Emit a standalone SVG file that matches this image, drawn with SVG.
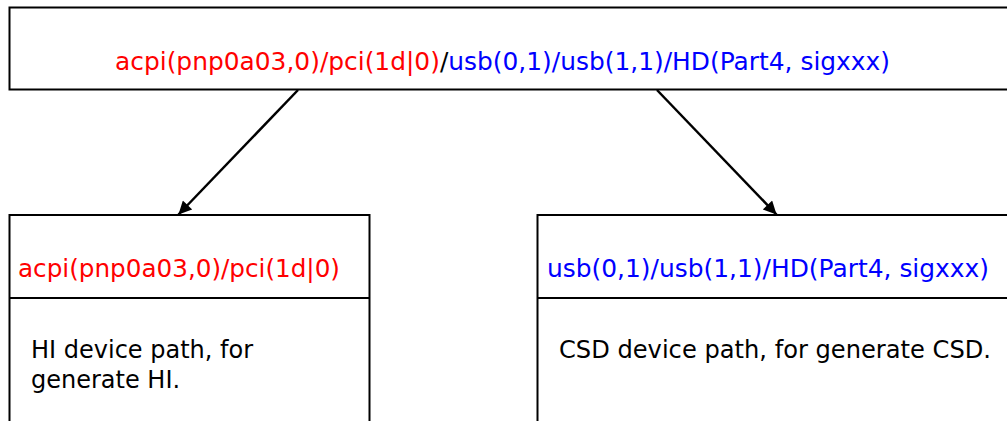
<svg xmlns="http://www.w3.org/2000/svg" width="1007" height="421" viewBox="0 0 1007 421">
<defs>
<style>
.box{fill:#fff;stroke:#000;stroke-width:2}
.line{stroke:#000;stroke-width:2;fill:none}
.t{font-family:"DejaVu Sans",Verdana,sans-serif;font-size:24.5px}
.s{font-size:24px}
.r{fill:#ff0000}
.b{fill:#0000ff}
.k{fill:#000}
.conn{stroke:#000;stroke-width:2.5;fill:none}
</style>
<marker id="ah" viewBox="0 0 10 10" refX="10" refY="5" markerWidth="6.4" markerHeight="5.2" markerUnits="strokeWidth" orient="auto">
<path d="M0,0 L10,5 L0,10 Z" fill="#000"/>
</marker>
</defs>
<rect width="1007" height="421" fill="#fff"/>
<g id="node-top">
<rect class="box" x="9.5" y="7.5" width="1005" height="82"/>
<text class="t" x="115" y="70" textLength="775" lengthAdjust="spacingAndGlyphs"><tspan class="r">acpi(pnp0a03,0)/pci(1d|0)</tspan><tspan class="k">/</tspan><tspan class="b">usb(0,1)/usb(1,1)/HD(Part4, sigxxx)</tspan></text>
</g>
<g id="node-hi">
<rect class="box" x="9.5" y="215" width="360" height="220"/>
<line class="line" x1="9.5" y1="298" x2="369.5" y2="298"/>
<text class="t r" x="18" y="277" textLength="322" lengthAdjust="spacingAndGlyphs">acpi(pnp0a03,0)/pci(1d|0)</text>
<text class="t s k" x="31" y="358">HI device path, for</text>
<text class="t s k" x="31" y="388">generate HI.</text>
</g>
<g id="node-csd">
<rect class="box" x="537.5" y="215" width="480" height="220"/>
<line class="line" x1="537.5" y1="298" x2="1017" y2="298"/>
<text class="t b" x="547" y="277" textLength="442" lengthAdjust="spacingAndGlyphs">usb(0,1)/usb(1,1)/HD(Part4, sigxxx)</text>
<text class="t s k" x="559" y="358" textLength="432" lengthAdjust="spacingAndGlyphs">CSD device path, for generate CSD.</text>
</g>
<g id="connectors">
<line class="conn" x1="298" y1="90" x2="178.5" y2="214.5" marker-end="url(#ah)"/>
<line class="conn" x1="657" y1="90" x2="776.5" y2="214.5" marker-end="url(#ah)"/>
</g>
</svg>
